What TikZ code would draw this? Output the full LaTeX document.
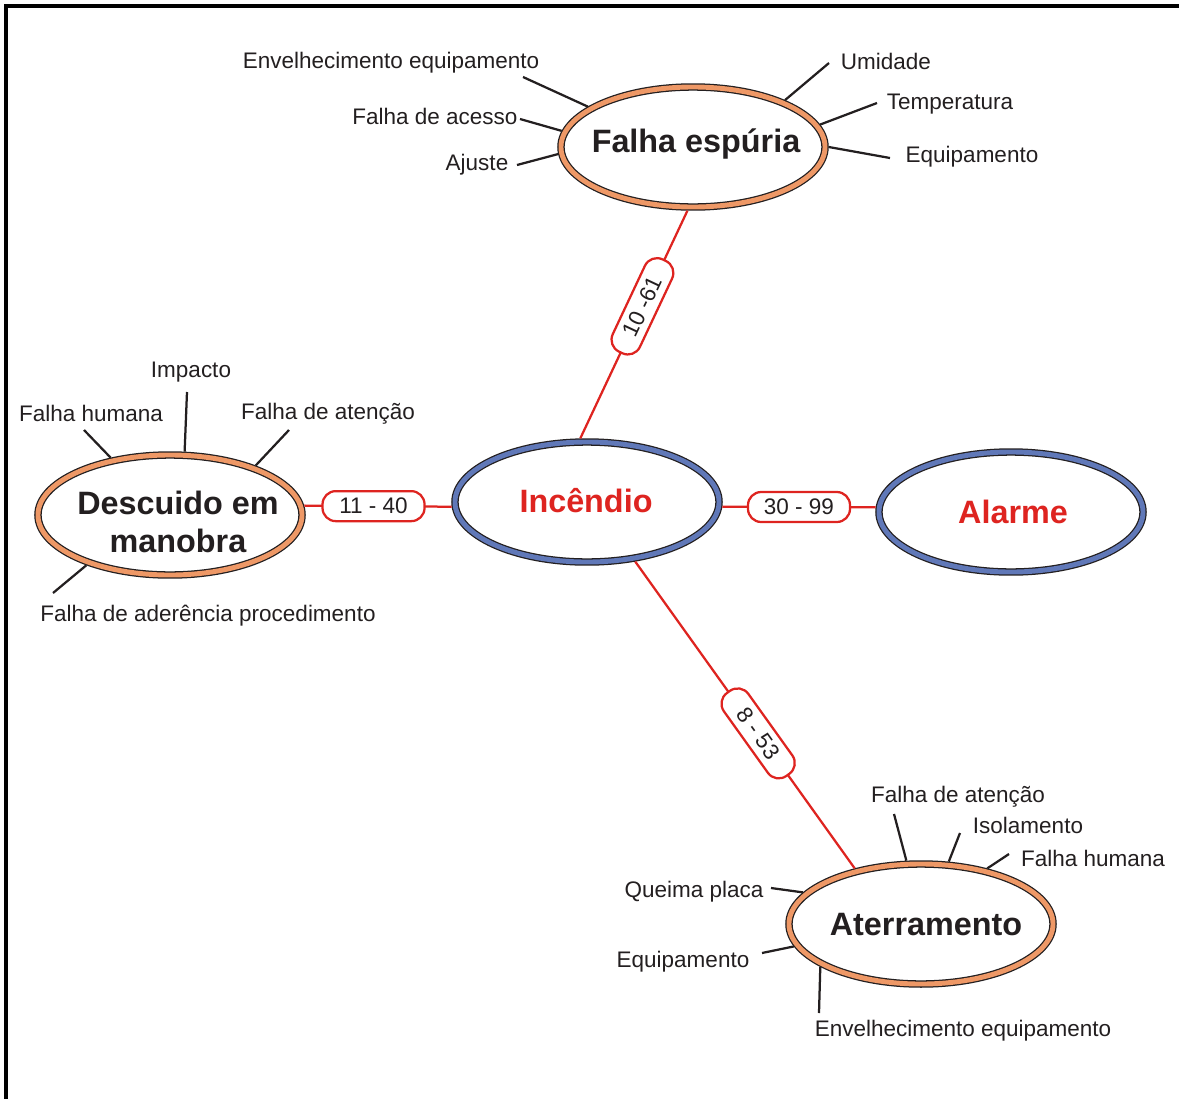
\documentclass[tikz,border=0pt]{standalone}
\usepackage{fontspec}
\setmainfont{Liberation Sans}
\usetikzlibrary{shapes.geometric}
\definecolor{ringorange}{RGB}{238,152,102}
\definecolor{ringblue}{RGB}{96,120,184}
\definecolor{linkred}{RGB}{222,36,32}
\definecolor{ink}{RGB}{35,31,32}

\begin{document}
\begin{tikzpicture}[x=0.025cm, y=0.025cm,
  every node/.style={text=ink, font=\fontsize{16}{19}\selectfont},
  ring/.style={ellipse, draw=ink, line width=0.9pt, double=#1, double distance=3.5pt,
    fill=white, minimum width=6.6cm, minimum height=3cm, inner sep=0pt, outer sep=2.65pt},
  title/.style={font=\bfseries\fontsize{23}{27}\selectfont, align=center},
  hot/.style={title, text=linkred},
  link/.style={draw=linkred, line width=1.6pt},
  tag/.style={draw=linkred, line width=1.6pt, fill=white, rounded corners=0.33cm,
    minimum width=2.55cm, minimum height=0.75cm, inner sep=0pt},
  spoke/.style={draw=ink, line width=1.6pt}]

\useasboundingbox (0,0) rectangle (1179,-1099);

% Frame (top and left edge)
\draw[line width=0.1cm] (6,-1120) -- (6,-5.5) -- (1200,-5.5);

% Ellipses
\node[ring=ringorange] (falha) at (693,-147) {};
\node[ring=ringblue]   (inc)   at (587,-502) {};
\node[ring=ringblue]   (alarm) at (1011,-512) {};
\node[ring=ringorange] (desc)  at (170,-515) {};
\node[ring=ringorange] (ater)  at (921,-924) {};

% Ellipse titles
\node[title] (falhaT) at (696,-144)  {Falha espúria};
\node[hot]   (incT)   at (586,-501)  {Incêndio};
\node[hot]   (alarmT) at (1013,-512) {Alarme};
\node[title] (descT)  at (178,-522)  {Descuido em\\manobra};
\node[title] (aterT)  at (926,-925)  {Aterramento};

% Red links with values
\draw[link] (desc.4)    -- node[tag, pos=0.47] (v1140) {11 - 40} (inc.182);
\draw[link] (inc.358)   -- node[tag] (v3099) {30 - 99} (alarm.178);
\draw[link] (falha.265) -- node[tag, sloped, pos=0.42] (v1061) {10 -61} (inc.96);
\draw[link] (inc.309)   -- node[tag, sloped, pos=0.56] (v853) {8 - 53} (ater.140);

% Falha espuria: labels
\node (fe1) at (391,-63)  {Envelhecimento equipamento};
\node (fe2) at (435,-116) {Falha de acesso};
\node (fe3) at (477,-165) {Ajuste};
\node (fe4) at (886,-61)  {Umidade};
\node (fe5) at (950,-104) {Temperatura};
\node (fe6) at (972,-157) {Equipamento};
% Falha espuria: spokes
\coordinate (fe1e) at (523,-77);
\coordinate (fe2e) at (520,-119);
\coordinate (fe3e) at (517,-165);
\coordinate (fe4e) at (829,-63);
\coordinate (fe5e) at (877,-103);
\coordinate (fe6e) at (890,-158);
\draw[spoke] (falha.159) -- (fe1e);
\draw[spoke] (falha.173) -- (fe2e);
\draw[spoke] (falha.183) -- (fe3e);
\draw[spoke] (falha.27)  -- (fe4e);
\draw[spoke] (falha.10)  -- (fe5e);
\draw[spoke] (falha.0)   -- (fe6e);

% Descuido em manobra: labels
\node (dm1) at (191,-372) {Impacto};
\node (dm2) at (91,-413)  {Falha humana};
\node (dm3) at (328,-414) {Falha de atenção};
\node (dm4) at (208,-616) {Falha de aderência procedimento};
% Descuido em manobra: spokes
\coordinate (dm1e) at (187,-392);
\coordinate (dm2e) at (84,-430);
\coordinate (dm3e) at (289,-430);
\coordinate (dm4e) at (53,-593);
\draw[spoke] (desc.77)  -- (dm1e);
\draw[spoke] (desc.136) -- (dm2e);
\draw[spoke] (desc.30)  -- (dm3e);
\draw[spoke] (desc.211) -- (dm4e);

% Aterramento: labels
\node (at1) at (958,-797)  {Falha de atenção};
\node (at2) at (1028,-825) {Isolamento};
\node (at3) at (1093,-858) {Falha humana};
\node (at4) at (694,-892)  {Queima placa};
\node (at5) at (683,-962)  {Equipamento};
\node (at6) at (963,-1031) {Envelhecimento equipamento};
% Aterramento: spokes
\coordinate (at1e) at (894,-814);
\coordinate (at2e) at (960,-833);
\coordinate (at3e) at (1009,-854);
\coordinate (at4e) at (771,-888);
\coordinate (at5e) at (762,-953);
\coordinate (at6e) at (819,-1013);
\draw[spoke] (ater.103) -- (at1e);
\draw[spoke] (ater.66)  -- (at2e);
\draw[spoke] (ater.40)  -- (at3e);
\draw[spoke] (ater.165) -- (at4e);
\draw[spoke] (ater.190) -- (at5e);
\draw[spoke] (ater.203) -- (at6e);

\end{tikzpicture}
\end{document}
